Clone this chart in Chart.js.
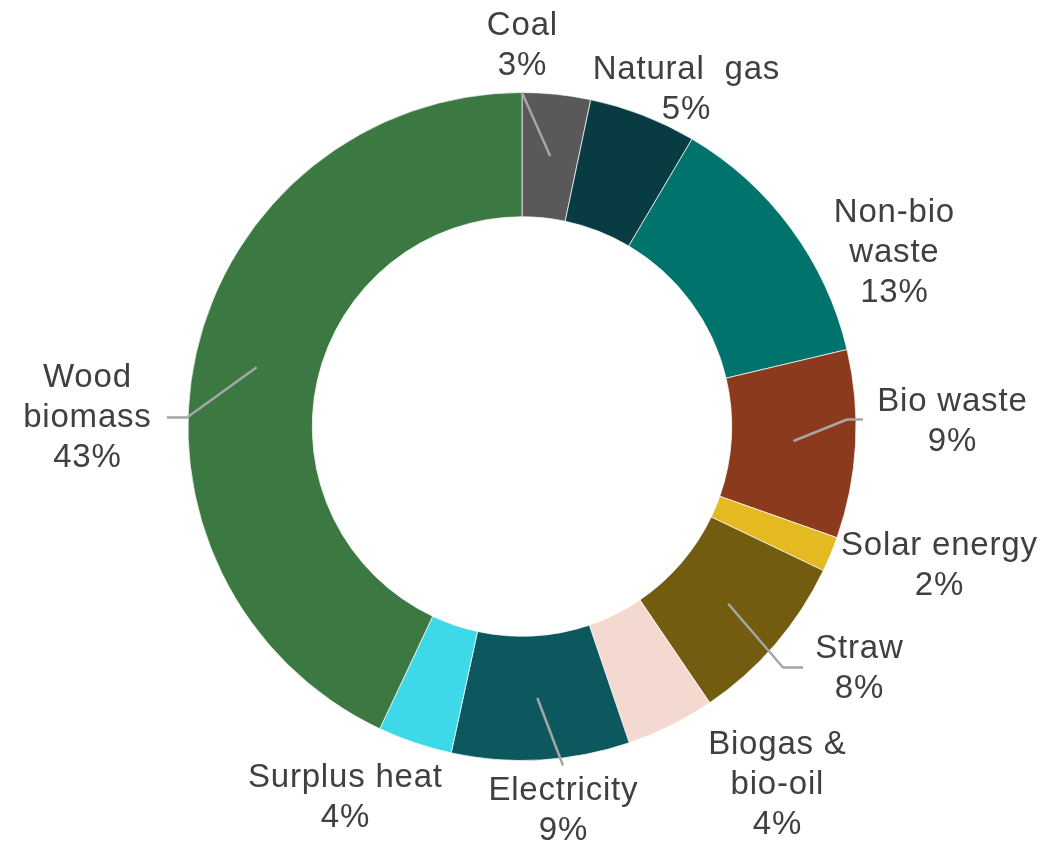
<!DOCTYPE html>
<html>
<head>
<meta charset="utf-8">
<script src="https://cdn.jsdelivr.net/npm/chart.js@4"></script>
<style>
    html, body { margin: 0; padding: 0; background: #fff; }
    #wrap { width: 1046px; height: 845px; }
</style>
</head>
<body>
<div id="wrap"><canvas id="chart" width="1046" height="845"></canvas></div>
<script>
// energy sources, clockwise from 12 o'clock
const categories = ['Coal', 'Natural  gas', 'Non-bio waste', 'Bio waste', 'Solar energy',
    'Straw', 'Biogas & bio-oil', 'Electricity', 'Surplus heat', 'Wood biomass']
const shares = [3.3, 5.2, 12.8, 9.1, 1.7, 8.4, 4.3, 8.6, 3.6, 43.0]
const colors = ['#595959', '#093b42', '#00736d', '#8b3a1e', '#e4b921',
    '#735c10', '#f3d9cf', '#0d585e', '#3dd9e8', '#3c7842']

// how each category name wraps in its label
const labelLines = [['Coal'], ['Natural  gas'], ['Non-bio', 'waste'], ['Bio waste'], ['Solar energy'],
    ['Straw'], ['Biogas &', 'bio-oil'], ['Electricity'], ['Surplus heat'], ['Wood', 'biomass']]

// label block centre and leader line points, px from the chart centre for an outer radius of 334
const placement = [
    { x: 0, y: -381, line: [[0, -334]] },
    { x: 164, y: -337 },
    { x: 372, y: -174 },
    { x: 430, y: -5, line: [[325, -7], [341, -7]] },
    { x: 417, y: 139 },
    { x: 337, y: 242, line: [[261, 241], [281, 241]] },
    { x: 255, y: 358 },
    { x: 41, y: 384, line: [[41, 339]] },
    { x: -177, y: 371 },
    { x: -435, y: -9, line: [[-335, -9], [-355, -9]] }
]

const callouts = {
    id: 'callouts',
    afterDatasetsDraw(chart) {
        const ctx = chart.ctx
        const meta = chart.getDatasetMeta(0)
        ctx.save()
        meta.data.forEach((arc, i) => {
            const { x: cx, y: cy, outerRadius } = arc.getProps(['x', 'y', 'outerRadius'], true)
            const k = outerRadius / 334
            const place = placement[i]

            if (place.line) {
                const start = arc.getCenterPoint(true)
                ctx.beginPath()
                ctx.moveTo(start.x, start.y)
                place.line.forEach(([dx, dy]) => ctx.lineTo(cx + dx * k, cy + dy * k))
                ctx.strokeStyle = '#a6a6a6'
                ctx.lineWidth = 2.5
                ctx.lineJoin = 'round'
                ctx.stroke()
            }

            const lines = [...labelLines[i], Math.round(shares[i]) + '%']
            const lh = 40
            const top = cy + place.y * k - (lines.length - 1) * lh / 2
            ctx.font = '33px "Liberation Sans", Arial, sans-serif'
            ctx.letterSpacing = '0.8px'
            ctx.fillStyle = '#404040'
            ctx.textAlign = 'center'
            ctx.textBaseline = 'middle'
            lines.forEach((t, j) => ctx.fillText(t, cx + place.x * k + 0.4, top + j * lh))
        })
        ctx.restore()
    }
}

new Chart(document.getElementById('chart').getContext('2d'), {
    type: 'doughnut',
    data: {
        labels: categories,
        datasets: [{
            data: shares,
            backgroundColor: colors,
            borderColor: 'rgba(255,255,255,0.7)',
            borderWidth: 1
        }]
    },
    options: {
        responsive: false,
        maintainAspectRatio: false,
        devicePixelRatio: 1,
        animation: false,
        cutout: '62.8%',
        layout: { padding: { top: 92, bottom: 84, left: 150, right: 152 } },
        plugins: {
            legend: { display: false },
            tooltip: { enabled: false }
        }
    },
    plugins: [callouts]
})
</script>
</body>
</html>
